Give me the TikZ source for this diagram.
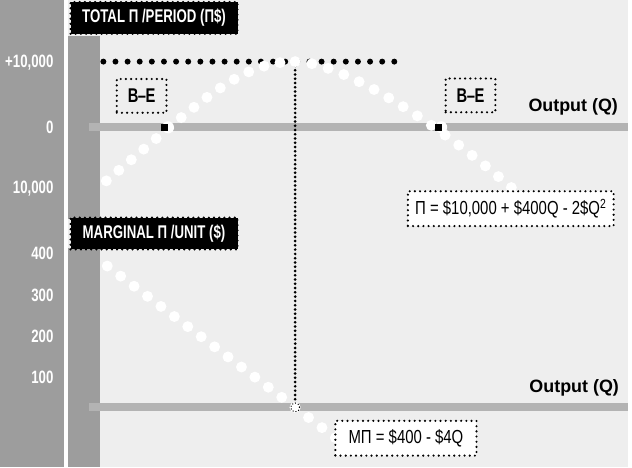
\documentclass[tikz,border=0pt]{standalone}
\usepackage{fontspec}
\setmainfont{Liberation Sans}
\newfontfamily\narrowfont[FakeStretch=0.74]{Liberation Sans}
\newfontfamily\bannerfont[FakeStretch=0.72]{Liberation Sans}
\newfontfamily\midfont[FakeStretch=0.79]{Liberation Sans}
\usetikzlibrary{calc}
\definecolor{panel}{HTML}{EEEEEE}
\definecolor{rail}{HTML}{9D9D9D}
\definecolor{axisbar}{HTML}{B3B3B3}
\tikzset{
  dotborder/.style={draw=black, line width=2.4pt, line cap=round, dash pattern=on 0pt off 5.2pt},
  banner/.style={dotborder, fill=black, text=white, font=\bannerfont\bfseries\fontsize{18.5}{18.5}\selectfont,
    minimum width=168pt, minimum height=32pt, inner sep=0pt},
  bebox/.style={dotborder, font=\narrowfont\bfseries\fontsize{20}{20}\selectfont,
    minimum width=50pt, minimum height=34pt, inner sep=0pt},
  formula/.style={dotborder, fill=white, font=\midfont\fontsize{19}{19}\selectfont,
    minimum height=35pt, inner sep=0pt},
  tick/.style={text=white, anchor=east, inner sep=0pt, font=\narrowfont\bfseries\fontsize{18}{18}\selectfont},
  axislabel/.style={anchor=east, inner sep=0pt, font=\bfseries\fontsize{18}{18}\selectfont},
  axis/.style={axisbar, line width=8pt},
  whitedots/.style={white, line width=11pt, line cap=round, dash pattern=on 0pt off #1},
  blackdots/.style={black, line width=6pt, line cap=round, dash pattern=on 0pt off 12.2pt},
  finedots/.style={black, line width=3pt, line cap=round, dash pattern=on 0pt off 4.3pt},
}
\begin{document}
\begin{tikzpicture}[x=1pt,y=-1pt]
\fill[panel] (0,0) rectangle (632,470);
\fill[rail] (0,0) rectangle (64,470);
\fill[white] (64,0) rectangle (68,470);
\fill[rail] (68,36) rectangle (101,220);
\fill[rail] (68,250) rectangle (101,470);
\foreach \lab/\ypos in {+10{,}000/63, 0/128, 10{,}000/190, 400/255, 300/297, 200/338, 100/380}
  \node[tick] at (54,\ypos) {\lab};
\coordinate (topstart) at (90,128);
\coordinate (topend) at (632,128);
\coordinate (botstart) at (90,410);
\coordinate (botend) at (632,410);
\coordinate (ceilstart) at (104,62);
\coordinate (ceilend) at (398,62);
\coordinate (peak) at (297,62);
\coordinate (lossleft) at (107,182);
\coordinate (lossright) at (524,197);
\coordinate (mzero) at (297,410);
\coordinate (mstart) at (107,267);
\draw[axis] (topstart) -- (topend);
\draw[axis] (botstart) -- (botend);
\draw[blackdots] (ceilstart) -- (ceilend);
\draw[finedots] (peak) -- (mzero);
\draw[whitedots=16.45pt] (lossleft) .. controls (200,104) and (240,62) .. (peak);
\draw[whitedots=17pt] (peak) .. controls (345,62) and (444,126) .. (lossright);
\draw[whitedots=16.9pt] (mzero) -- (mstart);
\draw[whitedots=16.9pt] (mzero) -- ($(mzero)!-0.27!(mstart)$);
\fill[white] (mzero) circle[radius=4.5pt];
\draw[black, line width=1pt, dotted] (mzero) circle[radius=4.5pt];
\foreach \bx in {166, 441}{
  \fill[white] (\bx+3,128) circle[radius=6pt];
  \fill[black] (\bx-3.5,124.5) rectangle (\bx+3.5,131.5);
}
\node[banner] (totalbanner) at (155,18) {TOTAL \symbol{"03A0} /PERIOD (\symbol{"03A0}\$)};
\node[banner] (marginbanner) at (155,235) {MARGINAL \symbol{"03A0} /UNIT (\$)};
\node[bebox] (beleft) at (142.5,96.5) {B\kern-0.5pt\textendash\kern-0.5pt E};
\node[bebox] (beright) at (473.5,96) {B\kern-0.5pt\textendash\kern-0.5pt E};
\node[axislabel] (topoutput) at (622,108) {Output (Q)};
\node[axislabel] (botoutput) at (623,390) {Output (Q)};
\node[formula, minimum width=207pt] (profitfn) at (514,210)
  {\symbol{"03A0} = \$10,000 + \$400Q - 2\$Q\textsuperscript{2}};
\node[formula, minimum width=142pt] (marginfn) at (408.5,441)
  {M\symbol{"03A0} = \$400 - \$4Q};
\end{tikzpicture}
\end{document}
